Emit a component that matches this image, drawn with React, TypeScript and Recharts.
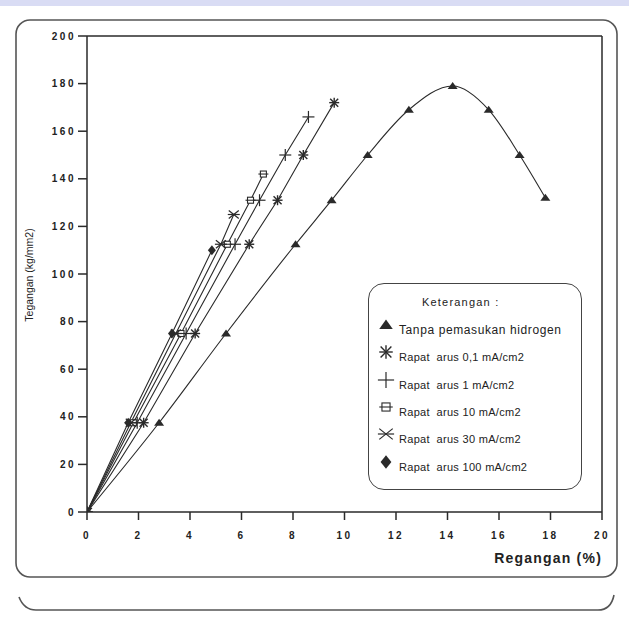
import React from "react";
import { LineChart, Line, XAxis, YAxis, ReferenceLine } from "recharts";

const xTicks = [0, 2, 4, 6, 8, 10, 12, 14, 16, 18, 20];
const yTicks = [0, 20, 40, 60, 80, 100, 120, 140, 160, 180, 200];

const seriesNames = [
  "Tanpa pemasukan hidrogen",
  "Rapat  arus 0,1 mA/cm2",
  "Rapat  arus 1 mA/cm2",
  "Rapat  arus 10 mA/cm2",
  "Rapat  arus 30 mA/cm2",
  "Rapat  arus 100 mA/cm2",
];
const markerKinds = ["triangle", "asterisk", "plus", "square", "xbar", "diamond"];

const tanpaX = [0, 2.8, 5.4, 8.1, 9.5, 10.9, 12.5, 14.2, 15.6, 16.8, 17.8];
const tanpaY = [0, 37.5, 75, 112.5, 131, 150, 169, 179, 169, 150, 132];
const a01X = [0, 2.2, 4.2, 6.3, 7.4, 8.4, 9.6];
const a01Y = [0, 37.5, 75, 112.5, 131, 150, 172];
const a1X = [0, 1.95, 3.85, 5.75, 6.7, 7.7, 8.6];
const a1Y = [0, 37.5, 75, 112.5, 131, 150, 166];
const a10X = [0, 1.8, 3.65, 5.45, 6.35, 6.85];
const a10Y = [0, 37.5, 75, 112.5, 131, 142];
const a30X = [0, 1.7, 3.45, 5.2, 5.7];
const a30Y = [0, 37.5, 75, 112.5, 125];
const a100X = [0, 1.6, 3.3, 4.85];
const a100Y = [0, 37.5, 75, 110];

const seriesX = [tanpaX, a01X, a1X, a10X, a30X, a100X];
const seriesY = [tanpaY, a01Y, a1Y, a10Y, a30Y, a100Y];

const INK = "#2a2a2a";

function Marker({ kind, cx, cy, s = 1 }: { kind: string; cx: number; cy: number; s?: number }) {
  if (cx == null || cy == null || isNaN(cx) || isNaN(cy)) return null;
  const k = (v: number) => v * s;
  switch (kind) {
    case "triangle":
      return <polygon points={`${cx},${cy - k(4)} ${cx - k(5)},${cy + k(3)} ${cx + k(5)},${cy + k(3)}`} fill={INK} />;
    case "asterisk":
      return (
        <g stroke={INK} strokeWidth={1.4}>
          <line x1={cx - k(5)} y1={cy} x2={cx + k(5)} y2={cy} />
          <line x1={cx} y1={cy - k(5)} x2={cx} y2={cy + k(5)} />
          <line x1={cx - k(4)} y1={cy - k(4)} x2={cx + k(4)} y2={cy + k(4)} />
          <line x1={cx - k(4)} y1={cy + k(4)} x2={cx + k(4)} y2={cy - k(4)} />
        </g>
      );
    case "plus":
      return (
        <g stroke={INK} strokeWidth={1.2}>
          <line x1={cx - k(6)} y1={cy} x2={cx + k(6)} y2={cy} />
          <line x1={cx} y1={cy - k(6)} x2={cx} y2={cy + k(6)} />
        </g>
      );
    case "square":
      return (
        <g stroke={INK} strokeWidth={1.1} fill="#fff">
          <rect x={cx - k(3)} y={cy - k(3)} width={k(6)} height={k(6)} />
          <line x1={cx - k(5)} y1={cy} x2={cx + k(5)} y2={cy} />
        </g>
      );
    case "xbar":
      return (
        <g stroke={INK} strokeWidth={1.2}>
          <line x1={cx - k(5)} y1={cy - k(4)} x2={cx + k(5)} y2={cy + k(4)} />
          <line x1={cx - k(5)} y1={cy + k(4)} x2={cx + k(5)} y2={cy - k(4)} />
          <line x1={cx - k(6)} y1={cy} x2={cx + k(6)} y2={cy} />
        </g>
      );
    case "diamond":
      return <polygon points={`${cx},${cy - k(5)} ${cx + k(4)},${cy} ${cx},${cy + k(5)} ${cx - k(4)},${cy}`} fill={INK} />;
    default:
      return null;
  }
}

const fontFam = "'Liberation Sans', Arial, sans-serif";
const tickStyle = { fontSize: 10, fontWeight: 700, fill: "#222", fontFamily: fontFam, letterSpacing: 2.5 };

export default function App() {
  const seriesData = seriesX.map((xs, i) => xs.map((x, j) => ({ x, y: seriesY[i][j] })));
  return (
    <div style={{ position: "absolute", left: 0, top: 0, width: 629, height: 631, background: "#fff", overflow: "hidden" }}>
      <svg width={629} height={631} style={{ position: "absolute", left: 0, top: 0 }}>
        <rect x={0} y={0} width={629} height={6} fill="#d9dcf4" />
        <rect x={16} y={20} width={601} height={557} rx={14} ry={14} fill="none" stroke="#555" strokeWidth={1.6} />
        <path d="M 19 597 Q 24 610 36 610 L 598 610 Q 611 610 614 595" fill="none" stroke="#555" strokeWidth={1.6} />
      </svg>
      <div style={{ position: "absolute", left: 0, top: 0 }}>
        <LineChart width={629} height={631} margin={{ top: 36, right: 27, bottom: 89, left: 27 }}>
          <XAxis
            type="number"
            dataKey="x"
            domain={[0, 20]}
            ticks={xTicks}
            allowDataOverflow
            height={30}
            tickSize={8}
            tickMargin={12}
            stroke={INK}
            strokeWidth={1.5}
            tick={tickStyle}
          />
          <YAxis
            type="number"
            dataKey="y"
            domain={[0, 200]}
            ticks={yTicks}
            allowDataOverflow
            width={60}
            tickSize={9}
            tickMargin={2}
            stroke={INK}
            strokeWidth={1.5}
            tick={tickStyle}
          />
          <ReferenceLine y={200} stroke={INK} strokeWidth={1.5} />
          <ReferenceLine x={20} stroke={INK} strokeWidth={1.5} />
          {seriesData.map((d, i) => (
            <Line
              key={seriesNames[i]}
              data={d}
              dataKey="y"
              name={seriesNames[i]}
              type={i === 0 ? "monotone" : "linear"}
              stroke={INK}
              strokeWidth={1.1}
              isAnimationActive={false}
              dot={(p: any) => <Marker key={`${i}-${p.index}`} kind={markerKinds[i]} cx={p.cx} cy={p.cy} />}
              activeDot={false}
            />
          ))}
        </LineChart>
      </div>
      <div
        style={{
          position: "absolute",
          left: 29,
          top: 275,
          transform: "translate(-50%, -50%) rotate(-90deg)",
          fontFamily: fontFam,
          fontSize: 10.5,
          color: "#222",
          whiteSpace: "nowrap",
        }}
      >
        Tegangan (kg/mm2)
      </div>
      <div
        style={{
          position: "absolute",
          right: 27,
          top: 550,
          fontFamily: fontFam,
          fontSize: 14,
          fontWeight: 700,
          letterSpacing: 1.2,
          color: "#222",
          whiteSpace: "nowrap",
        }}
      >
        Regangan (%)
      </div>
      <div
        style={{
          position: "absolute",
          left: 368,
          top: 283,
          width: 214,
          height: 207,
          boxSizing: "border-box",
          border: "1.6px solid #444",
          borderRadius: 16,
          background: "#fff",
          fontFamily: fontFam,
          color: "#222",
        }}
      >
        <div style={{ position: "absolute", left: 53, top: 12, fontSize: 11, letterSpacing: 1.2 }}>Keterangan :</div>
        {seriesNames.map((n, i) => (
          <div key={n} style={{ position: "absolute", left: 6, top: 32 + i * 27.3, height: 22, width: 208 }}>
            <svg width={22} height={20} style={{ position: "absolute", left: 0, top: 0 }}>
              <Marker kind={markerKinds[i]} cx={11} cy={9} s={1.35} />
            </svg>
            <div
              style={{
                position: "absolute",
                left: 24,
                top: i === 0 ? 7 : 8,
                fontSize: i === 0 ? 12 : 11,
                letterSpacing: i === 0 ? 0.6 : 0.3,
                whiteSpace: "pre",
              }}
            >
              {n}
            </div>
          </div>
        ))}
      </div>
    </div>
  );
}
